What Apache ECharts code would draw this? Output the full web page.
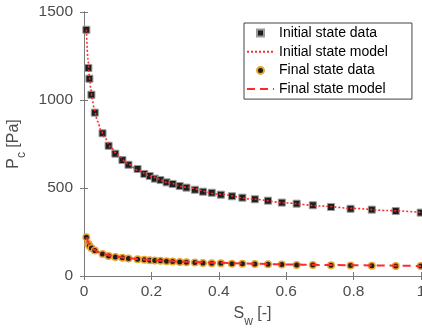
<!DOCTYPE html>
<html>
<head>
<meta charset="utf-8">
<script src="https://cdn.jsdelivr.net/npm/echarts@6/dist/echarts.min.js"></script>
<style>
  html, body { margin: 0; padding: 0; background: #fff; }
  #chart { width: 422px; height: 329px; }
</style>
</head>
<body>
<div id="chart"></div>
<script>
// Water saturation of the measured points (shared by both states)
var swData = [0.007, 0.013, 0.016, 0.022, 0.032, 0.055, 0.073, 0.093, 0.114, 0.132,
              0.159, 0.179, 0.195, 0.210, 0.227, 0.245, 0.263, 0.284, 0.304, 0.329,
              0.353, 0.379, 0.406, 0.439, 0.470, 0.507, 0.546, 0.587, 0.631, 0.679,
              0.733, 0.791, 0.854, 0.925, 0.999];
// Capillary pressure [Pa], initial state measurements
var pcInitial = [1399, 1182, 1121, 1030, 928, 811, 740, 695, 659, 632,
                 608, 580, 568, 553, 545, 532, 523, 511, 502, 490,
                 479, 473, 462, 453, 445, 436, 428, 417, 411, 402,
                 392, 382, 377, 369, 360];
// Capillary pressure [Pa], final state measurements
var pcFinal = [220, 182, 172, 159, 145, 125, 114, 108, 103, 99,
               95, 92, 90, 88, 86, 84, 82, 80, 78, 76,
               74, 73, 72, 70, 69, 68, 67, 65, 63, 62,
               61, 60, 58, 57, 57];
// Fitted model curves
var swModel = [0.007, 0.012, 0.016, 0.02, 0.025, 0.03, 0.04, 0.05, 0.06, 0.08,
               0.1, 0.13, 0.16, 0.2, 0.25, 0.3, 0.4, 0.5, 0.6, 0.7, 0.8, 0.9, 1.0];
var pcInitialModel = [1399, 1230, 1130, 1065, 1000, 950, 880, 830, 790, 730,
                      688, 638, 600, 565, 530, 505, 465, 437, 415, 398, 384, 372, 362];
var pcFinalModel = [220, 195, 178, 167, 157, 149, 138, 130, 124, 115,
                    109, 102, 96, 91, 85, 81, 75, 70, 66, 63, 61, 59, 57];

var xTicks = { min: 0, max: 1, interval: 0.2 };
var yTicks = { min: 0, max: 1500, interval: 500 };
var seriesNames = ['Initial state data', 'Initial state model', 'Final state data', 'Final state model'];

function pairs(xs, ys) {
  return xs.map(function (x, i) { return [x, ys[i]]; });
}

var font = 'Liberation Sans, Arial, Helvetica, sans-serif';
var axisGray = '#7a7a7a';
var textGray = '#4d4d4d';
var red = '#ff2b2b';

function frameAxis(extra) {
  return Object.assign({
    type: 'value',
    axisLine: { show: true, lineStyle: { color: axisGray, width: 1 } },
    axisTick: { show: true, inside: true, length: 4, lineStyle: { color: axisGray } },
    splitLine: { show: false },
    axisLabel: { show: false }
  }, extra);
}

function plainNumber(v) { return String(v); }

var nameRich = {
  a: { fontSize: 16, lineHeight: 16, verticalAlign: 'top', color: textGray, fontFamily: font },
  s: { fontSize: 12, lineHeight: 12, verticalAlign: 'top', padding: [10, 0, 0, 0], color: textGray, fontFamily: font }
};

// model entries in the legend show only their line, no marker
var lineOnlyEntry = { opacity: 0 };

var chart = echarts.init(document.getElementById('chart'), null, { renderer: 'canvas' });
chart.setOption({
  animation: false,
  backgroundColor: '#fff',
  grid: { left: 84, right: 1, top: 12, bottom: 53, containLabel: false, outerBoundsMode: 'none' },
  xAxis: [
    frameAxis({
      position: 'bottom', min: xTicks.min, max: xTicks.max, interval: xTicks.interval,
      axisLabel: { show: true, color: textGray, fontSize: 15.5, fontFamily: font, margin: 8, formatter: plainNumber },
      name: '{a|S}{s|w}{a| [-]}', nameLocation: 'middle', nameGap: 30,
      nameTextStyle: { rich: nameRich }
    }),
    frameAxis({ position: 'top', min: xTicks.min, max: xTicks.max, interval: xTicks.interval })
  ],
  yAxis: [
    frameAxis({
      position: 'left', min: yTicks.min, max: yTicks.max, interval: yTicks.interval,
      axisLabel: { show: true, color: textGray, fontSize: 15.5, fontFamily: font, margin: 11, formatter: plainNumber },
      name: '{a|P}{s|c}{a| [Pa]}', nameLocation: 'middle', nameGap: 54, nameRotate: 90,
      nameTextStyle: { rich: nameRich }
    }),
    frameAxis({ position: 'right', min: yTicks.min, max: yTicks.max, interval: yTicks.interval })
  ],
  legend: {
    orient: 'vertical',
    left: 244, top: 23,
    itemWidth: 27, itemHeight: 7, itemGap: 4.7,
    padding: [3, 24, 3, 2],
    backgroundColor: '#fff',
    borderColor: '#444', borderWidth: 1,
    textStyle: { fontSize: 14, lineHeight: 14, color: '#000', fontFamily: font },
    data: [
      { name: seriesNames[0] },
      { name: seriesNames[1], itemStyle: lineOnlyEntry },
      { name: seriesNames[2] },
      { name: seriesNames[3], itemStyle: lineOnlyEntry }
    ]
  },
  series: [
    {
      name: seriesNames[0], type: 'scatter',
      data: pairs(swData, pcInitial),
      symbol: 'path://M0,0L10,0L10,10L0,10Z', symbolSize: 7, symbolKeepAspect: true,
      itemStyle: { color: '#1e1e1e', borderColor: '#9a9a9a', borderWidth: 1, opacity: 1 },
      z: 2
    },
    {
      name: seriesNames[2], type: 'scatter',
      data: pairs(swData, pcFinal),
      symbol: 'circle', symbolSize: 6.5,
      itemStyle: { color: '#1e1e1e', borderColor: '#eaa52f', borderWidth: 1.5, opacity: 1 },
      z: 2
    },
    {
      name: seriesNames[1], type: 'line',
      data: pairs(swModel, pcInitialModel),
      symbol: 'none', showSymbol: false, smooth: 0.3, smoothMonotone: 'x',
      lineStyle: { color: red, width: 1.6, type: [2, 2] },
      itemStyle: { color: red },
      z: 3
    },
    {
      name: seriesNames[3], type: 'line',
      data: pairs(swModel, pcFinalModel),
      symbol: 'none', showSymbol: false, smooth: 0.3, smoothMonotone: 'x',
      lineStyle: { color: red, width: 2, type: [8, 5] },
      itemStyle: { color: red },
      z: 3
    }
  ]
});
</script>
</body>
</html>
